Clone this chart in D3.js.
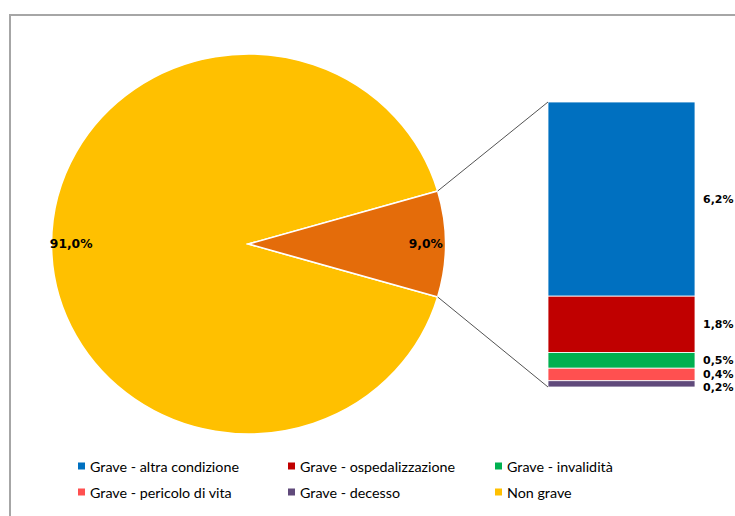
<!DOCTYPE html>
<html>
<head>
<meta charset="utf-8">
<script src="https://cdn.jsdelivr.net/npm/d3@7/dist/d3.min.js"></script>
<style>
  html, body { margin: 0; padding: 0; background: #fff; }
  svg { display: block; }
</style>
</head>
<body>
<svg id="chart" width="735" height="516"></svg>
<script>
// Main pie: share of serious vs non-serious reports
const pieCategories = ["Non grave", "Grave"];
const pieValues = [91.0, 9.0];
const pieLabels = ["91,0%", "9,0%"];
const pieColors = ["#FFC000", "#E46C0A"];

// Breakdown of the serious share, drawn as a stacked bar (top to bottom)
const barCategories = ["Grave - altra condizione", "Grave - ospedalizzazione", "Grave - invalidità", "Grave - pericolo di vita", "Grave - decesso"];
const barValues = [6.2, 1.8, 0.5, 0.4, 0.2];
const barLabels = ["6,2%", "1,8%", "0,5%", "0,4%", "0,2%"];
const barColors = ["#0070C0", "#C00000", "#00B050", "#FF5050", "#604A7B"];

// Legend order
const legendItems = [
  { name: "Grave - altra condizione", color: "#0070C0" },
  { name: "Grave - ospedalizzazione", color: "#C00000" },
  { name: "Grave - invalidità", color: "#00B050" },
  { name: "Grave - pericolo di vita", color: "#FF5050" },
  { name: "Grave - decesso", color: "#604A7B" },
  { name: "Non grave", color: "#FFC000" }
];

const svg = d3.select("#chart");
const labelFont = "'DejaVu Sans', Verdana, sans-serif";
const legendFont = "Lato, 'Open Sans', sans-serif";

// Chart frame
svg.append("rect")
  .attr("x", 10).attr("y", 15)
  .attr("width", 760).attr("height", 540)
  .attr("fill", "#fff")
  .attr("stroke", "#A6A6A6").attr("stroke-width", 2);

// ---- Pie ----
const cx = 248.5, cy = 244, ry = 190, sx = 1.037;
const otherFrac = pieValues[1] / d3.sum(pieValues);
const start = Math.PI / 2 - otherFrac * Math.PI - (1 - otherFrac) * 2 * Math.PI;
const pie = d3.pie().sort(null).startAngle(start).endAngle(start + 2 * Math.PI);
const arcs = pie(pieValues);
const arc = d3.arc().innerRadius(0).outerRadius(ry);

const pieG = svg.append("g").attr("transform", `translate(${cx},${cy}) scale(${sx},1)`);
pieG.selectAll("path.slice")
  .data(arcs)
  .join("path")
  .attr("class", "slice")
  .attr("d", arc)
  .attr("fill", (d, i) => pieColors[i])
  .attr("stroke", "#fff")
  .attr("stroke-width", 1.6)
  .attr("stroke-linejoin", "miter");

// Slice labels
const labelArc = d3.arc().innerRadius(ry * 0.9).outerRadius(ry * 0.9);
svg.selectAll("text.pielabel")
  .data(arcs)
  .join("text")
  .attr("class", "pielabel")
  .attr("x", d => cx + labelArc.centroid(d)[0] * sx)
  .attr("y", d => cy + labelArc.centroid(d)[1])
  .attr("text-anchor", "middle")
  .attr("dominant-baseline", "central")
  .attr("font-family", labelFont)
  .attr("font-size", 12.3)
  .attr("font-weight", "bold")
  .attr("fill", "#000")
  .text((d, i) => pieLabels[i]);

// ---- Stacked bar ----
const barX = 548, barW = 147;
const yBar = d3.scaleLinear()
  .domain([0, d3.sum(barValues)])
  .range([387, 102]);

// stack from bottom: last category sits at the bottom
const segs = [];
let acc = 0;
for (let i = barValues.length - 1; i >= 0; i--) {
  segs.push({ i, y0: acc, y1: acc + barValues[i] });
  acc += barValues[i];
}
segs.sort((a, b) => a.i - b.i);

svg.selectAll("rect.seg")
  .data(segs)
  .join("rect")
  .attr("class", "seg")
  .attr("x", barX)
  .attr("width", barW)
  .attr("y", d => yBar(d.y1))
  .attr("height", d => yBar(d.y0) - yBar(d.y1))
  .attr("fill", d => barColors[d.i])
  .attr("stroke", "#fff")
  .attr("stroke-width", 0.8);

// bar labels at segment mid-heights, spread so they do not overlap
const labelGap = 13;
const labelPos = segs.map(d => ({ i: d.i, y: yBar((d.y0 + d.y1) / 2) }));
for (let k = 1; k < labelPos.length; k++) {
  if (labelPos[k].y - labelPos[k - 1].y < labelGap) labelPos[k].y = labelPos[k - 1].y + labelGap;
}
svg.selectAll("text.barlabel")
  .data(labelPos)
  .join("text")
  .attr("class", "barlabel")
  .attr("x", barX + barW + 8)
  .attr("y", d => d.y)
  .attr("dominant-baseline", "central")
  .attr("font-family", labelFont)
  .attr("font-size", 11)
  .attr("font-weight", "bold")
  .attr("fill", "#000")
  .text(d => barLabels[d.i]);

// ---- Connector lines from the slice edges to the bar corners ----
const other = arcs[1];
const corner = a => [cx + ry * Math.sin(a) * sx, cy - ry * Math.cos(a)];
const cTop = corner(other.startAngle);
const cBot = corner(other.endAngle);
const connectors = [
  [cTop, [barX, yBar(d3.sum(barValues))]],
  [cBot, [barX, yBar(0)]]
];
svg.selectAll("line.conn")
  .data(connectors)
  .join("line")
  .attr("class", "conn")
  .attr("x1", d => d[0][0]).attr("y1", d => d[0][1])
  .attr("x2", d => d[1][0]).attr("y2", d => d[1][1])
  .attr("stroke", "#404040")
  .attr("stroke-width", 0.9);

// ---- Legend ----
const colX = [78, 288, 495];
const rowY = [466, 492];
const lg = svg.selectAll("g.legend")
  .data(legendItems)
  .join("g")
  .attr("class", "legend")
  .attr("transform", (d, i) => `translate(${colX[i % 3]},${rowY[Math.floor(i / 3)]})`);
lg.append("rect")
  .attr("x", 0).attr("y", -3.5)
  .attr("width", 7).attr("height", 7)
  .attr("fill", d => d.color);
lg.append("text")
  .attr("x", 12)
  .attr("y", 0)
  .attr("dominant-baseline", "central")
  .attr("font-family", legendFont)
  .attr("font-size", 14.3)
  .attr("fill", "#000")
  .text(d => d.name);
</script>
</body>
</html>
